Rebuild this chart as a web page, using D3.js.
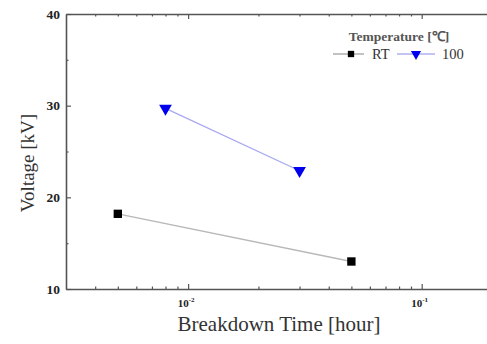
<!DOCTYPE html>
<meta charset="utf-8">
<script src="https://d3js.org/d3.v7.min.js"></script>
<style>
  body { margin: 0; background: #fff; }
  svg text { font-family: "Liberation Serif", "Times New Roman", serif; }
</style>
<div id="chart"></div>
<script>

// data
var seriesNames = ["RT", "100"];
var rtTime = [0.005, 0.05];
var rtVoltage = [18.2, 13.0];
var hotTime = [0.008, 0.03];
var hotVoltage = [29.7, 22.9];
var yTicks = [10, 20, 30, 40];
var yMinor = [15, 25, 35];

var W = 487, H = 344;
var margin = {top: 14, left: 66};
var plotRight = 492, plotBottom = 289;
var serif = "Liberation Serif";

var svg = d3.select("#chart").append("svg")
  .attr("width", W).attr("height", H);

var x = d3.scaleLog().domain([0.003, 0.2]).range([margin.left, plotRight]);
var y = d3.scaleLinear().domain([10, 40]).range([plotBottom, margin.top]);

var axisColor = "#555";

// minor/major x ticks
var xMajor = [0.01, 0.1];
var xMinor = [];
[0.001, 0.01, 0.1].forEach(function(d) {
  for (var k = 2; k <= 9; k++) {
    var v = d * k;
    if (v > 0.003 && v < 0.2) xMinor.push(v);
  }
});

var gx = svg.append("g").attr("transform", "translate(0," + plotBottom + ")");
gx.call(d3.axisBottom(x).tickValues(xMajor).tickSizeInner(-5).tickSizeOuter(0).tickFormat(""));
var gxm = svg.append("g").attr("transform", "translate(0," + plotBottom + ")");
gxm.call(d3.axisBottom(x).tickValues(xMinor).tickSizeInner(-2.5).tickSizeOuter(0).tickFormat(""));
gxm.select(".domain").remove();

var gt = svg.append("g").attr("transform", "translate(0," + margin.top + ")");
gt.call(d3.axisTop(x).tickValues(xMajor).tickSizeInner(-5).tickSizeOuter(0).tickFormat(""));
var gtm = svg.append("g").attr("transform", "translate(0," + margin.top + ")");
gtm.call(d3.axisTop(x).tickValues(xMinor).tickSizeInner(-2.5).tickSizeOuter(0).tickFormat(""));
gtm.select(".domain").remove();

var gy = svg.append("g").attr("transform", "translate(" + margin.left + ",0)");
gy.call(d3.axisLeft(y).tickValues(yTicks).tickSizeInner(-5).tickSizeOuter(0).tickPadding(6));
var gym = svg.append("g").attr("transform", "translate(" + margin.left + ",0)");
gym.call(d3.axisLeft(y).tickValues(yMinor).tickSizeInner(-2.5).tickSizeOuter(0).tickFormat(""));
gym.select(".domain").remove();

svg.selectAll(".domain").attr("stroke", axisColor).attr("stroke-width", 1.6);
svg.selectAll(".tick line").attr("stroke", axisColor).attr("stroke-width", 1.2);
gy.selectAll("text")
  .attr("font-family", serif)
  .attr("font-weight", "bold")
  .attr("font-size", 13.5)
  .attr("fill", "#222");

// x tick labels as 10^-n
xMajor.forEach(function(v) {
  var t = svg.append("text")
    .attr("x", x(v) - 2).attr("y", 307)
    .attr("text-anchor", "middle")
    .attr("font-family", serif)
    .attr("font-weight", "bold").attr("font-size", 11).attr("fill", "#222");
  t.append("tspan").text("10");
  t.append("tspan").attr("dy", -5).attr("font-size", 7).text("-" + Math.round(-Math.log10(v)));
});

// axis titles
svg.append("text")
  .attr("x", 279).attr("y", 331)
  .attr("text-anchor", "middle")
  .attr("font-family", serif)
  .attr("font-size", 21).attr("fill", "#333")
  .text("Breakdown Time [hour]");

svg.append("text")
  .attr("transform", "translate(34," + 163 + ")rotate(-90)")
  .attr("text-anchor", "middle")
  .attr("font-family", serif)
  .attr("font-size", 19).attr("fill", "#333")
  .text("Voltage [kV]");

// series
var line = d3.line().x(function(d) { return x(d[0]); }).y(function(d) { return y(d[1]); });
var rt = rtTime.map(function(t, i) { return [t, rtVoltage[i]]; });
var hot = hotTime.map(function(t, i) { return [t, hotVoltage[i]]; });

svg.append("path").datum(rt).attr("d", line)
  .attr("fill", "none").attr("stroke", "#b8b8b8").attr("stroke-width", 1.3);
svg.append("path").datum(hot).attr("d", line)
  .attr("fill", "none").attr("stroke", "#a8a8f0").attr("stroke-width", 1.3);

var sq = d3.symbol().type(d3.symbolSquare).size(70);
var tri = d3.symbol().type(d3.symbolTriangle).size(70);

svg.selectAll(".rt").data(rt).enter().append("path")
  .attr("d", sq)
  .attr("transform", function(d) { return "translate(" + x(d[0]) + "," + y(d[1]) + ")"; })
  .attr("fill", "#000");
svg.selectAll(".hot").data(hot).enter().append("path")
  .attr("d", tri)
  .attr("transform", function(d) { return "translate(" + x(d[0]) + "," + y(d[1]) + ")rotate(180)"; })
  .attr("fill", "#0000ee");

// legend
svg.append("text")
  .attr("x", 399).attr("y", 41)
  .attr("text-anchor", "middle")
  .attr("font-family", serif)
  .attr("font-size", 13.5).attr("font-weight", "bold").attr("fill", "#555")
  .text("Temperature [\u2103]");

var ly = 54;
svg.append("line").attr("x1", 333).attr("x2", 364).attr("y1", ly).attr("y2", ly)
  .attr("stroke", "#999").attr("stroke-width", 1.2);
svg.append("path").attr("d", d3.symbol().type(d3.symbolSquare).size(40))
  .attr("transform", "translate(351," + ly + ")").attr("fill", "#000");
svg.append("text").attr("x", 372).attr("y", ly + 5)
  .attr("font-family", serif)
  .attr("font-size", 14.5).attr("fill", "#333").text(seriesNames[0]);

svg.append("line").attr("x1", 397).attr("x2", 435).attr("y1", ly).attr("y2", ly)
  .attr("stroke", "#8888ee").attr("stroke-width", 1.2);
svg.append("path").attr("d", d3.symbol().type(d3.symbolTriangle).size(45))
  .attr("transform", "translate(416," + ly + ")rotate(180)").attr("fill", "#0000ee");
svg.append("text").attr("x", 442).attr("y", ly + 5)
  .attr("font-family", serif)
  .attr("font-size", 14.5).attr("fill", "#333").text(seriesNames[1]);

</script>
